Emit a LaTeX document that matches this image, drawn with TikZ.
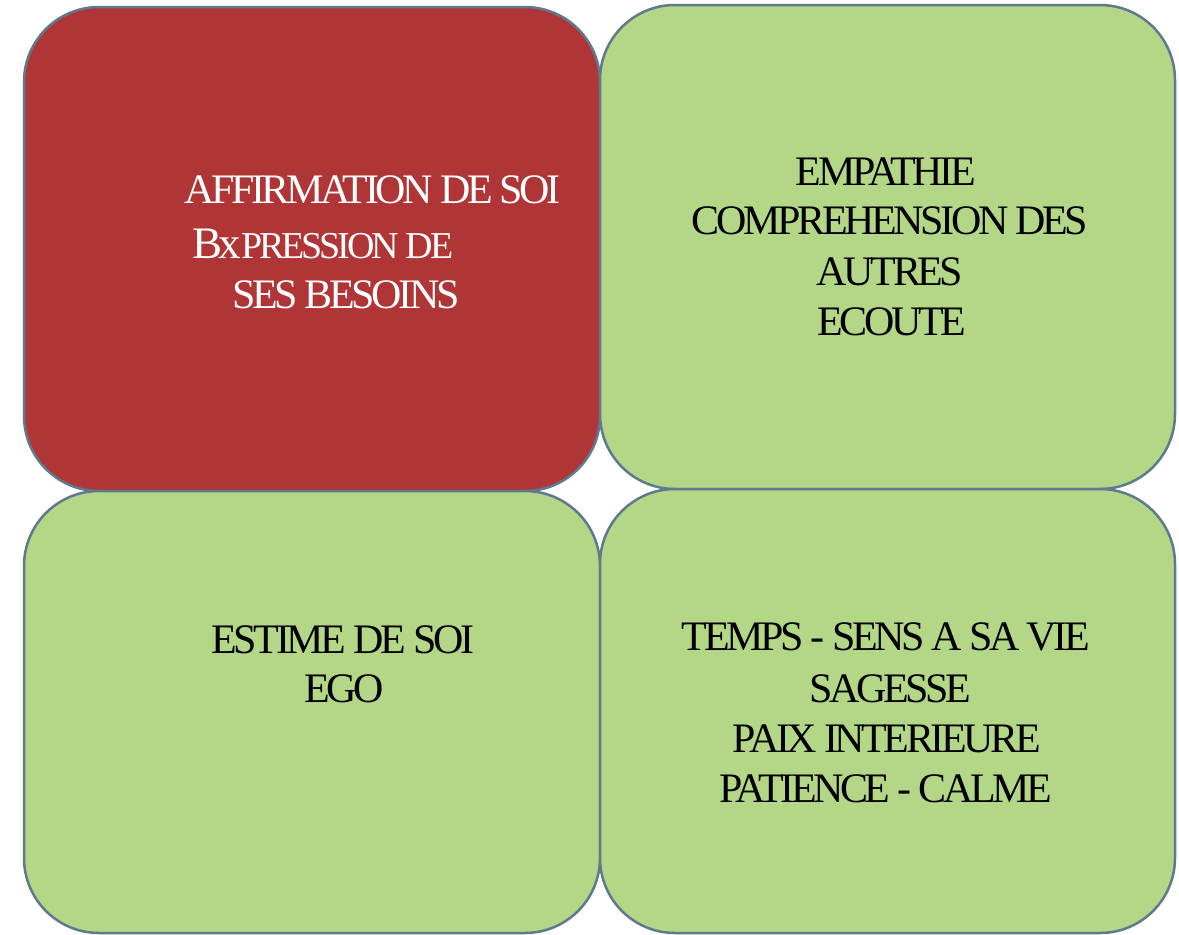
\documentclass[tikz,border=0pt]{standalone}
\usepackage{fontspec}
\setmainfont[LetterSpace=-8]{Liberation Serif}
\definecolor{boxred}{HTML}{B03537}
\definecolor{boxgreen}{HTML}{B3D687}
\definecolor{boxline}{HTML}{5F7A8F}
\tikzset{
  panel/.style={draw=boxline, line width=2.5pt, rounded corners=75pt},
  redpanel/.style={panel, fill=boxred},
  greenpanel/.style={panel, fill=boxgreen},
  lbl/.style={inner sep=0pt, font=\fontsize{42}{50}\selectfont, anchor=base},
  lblw/.style={lbl, anchor=base west},
}
\begin{document}
\begin{tikzpicture}[x=1pt,y=-1pt]
\useasboundingbox (0,0) rectangle (1179,935);
\fill[white] (0,0) rectangle (1179,935);
% panels
\draw[redpanel]   (24,7)   rectangle (600,491);
\draw[greenpanel] (600,5)  rectangle (1175,489);
\draw[greenpanel] (24,491) rectangle (600,933);
\draw[greenpanel] (600,489) rectangle (1175,933);
% top-left text
\node[lblw, text=white] (tl1) at (184,203) {AFFIRMATION DE SOI};
\node[lblw, text=white] (tl2) at (192,258) {{\fontsize{45}{50}\selectfont Bx}{\fontsize{38}{50}\selectfont PRESSION DE}};
\node[lblw, text=white] (tl3) at (232,308) {SES BESOINS};
% top-right text
\node[lbl] (tr1) at (886,185) {EMPATHIE};
\node[lbl] (tr2) at (890,234) {COMPREHENSION DES};
\node[lbl] (tr3) at (890,285) {AUTRES};
\node[lbl] (tr4) at (892,335) {ECOUTE};
% bottom-left text
\node[lbl] (bl1) at (343,653) {ESTIME DE SOI};
\node[lbl] (bl2) at (344,702) {EGO};
% bottom-right text
\node[lbl] (br1) at (886,650) {TEMPS - SENS A SA VIE};
\node[lbl] (br2) at (890,702) {SAGESSE};
\node[lbl] (br3) at (887,752) {PAIX INTERIEURE};
\node[lbl] (br4) at (886,802) {PATIENCE - CALME};
\end{tikzpicture}
\end{document}
